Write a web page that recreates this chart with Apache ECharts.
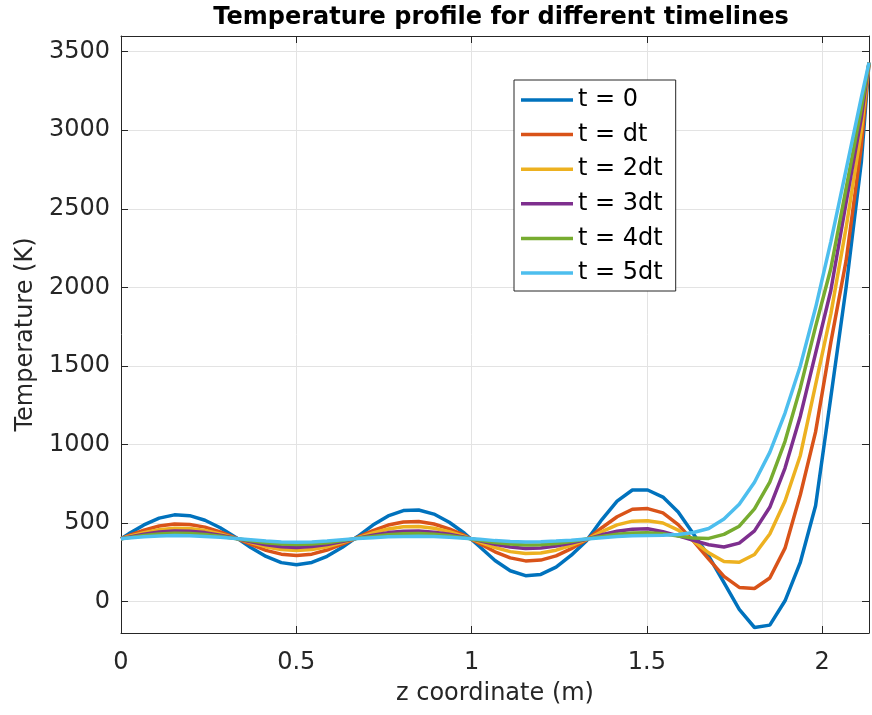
<!DOCTYPE html>
<html>
<head>
<meta charset="utf-8">
<title>Temperature profile</title>
<script src="https://cdn.jsdelivr.net/npm/echarts@6.0.0/dist/echarts.min.js"></script>
<style>
html,body{margin:0;padding:0;background:#fff;}
#chart{width:872px;height:715px;}
</style>
</head>
<body>
<div id="chart"></div>
<script>
var fontFamily = '"DejaVu Sans",Verdana,sans-serif';

// z positions (m)
var zs = [0, 0.0218, 0.0653, 0.1089, 0.1524, 0.1959, 0.2395, 0.2830, 0.3266, 0.3701, 0.4137,
    0.4572, 0.5007, 0.5443, 0.5878, 0.6314, 0.6749, 0.7185, 0.7620, 0.8055, 0.8491,
    0.8926, 0.9362, 0.9797, 1.0233, 1.0668, 1.1103, 1.1539, 1.1974, 1.2410, 1.2845,
    1.3281, 1.3716, 1.4151, 1.4587, 1.5022, 1.5458, 1.5893, 1.6329, 1.6764, 1.7199,
    1.7635, 1.8070, 1.8506, 1.8941, 1.9377, 1.9812, 2.0247, 2.0683, 2.1118, 2.1336];

var seriesNames = ['t = 0', 't = dt', 't = 2dt', 't = 3dt', 't = 4dt', 't = 5dt'];
var colors = ['#0072BD', '#D95319', '#EDB120', '#7E2F8E', '#77AC30', '#4DBEEE'];

var t0 = [400, 431, 488, 531, 552, 547, 518, 470, 410, 344, 287, 248, 235, 249, 288, 346,
    414, 487, 545, 579, 583, 557, 505, 435, 349, 261, 196, 165, 173, 219, 295, 388,
    522, 639, 710, 710, 665, 570, 430, 290, 120, -50, -165, -150, 5, 250, 610, 1300, 2000, 2800, 3430];
var t1 = [400, 419, 455, 481, 494, 491, 474, 443, 406, 364, 326, 302, 293, 302, 328, 365,
    409, 452, 487, 507, 510, 494, 463, 421, 369, 317, 278, 259, 264, 291, 337, 393,
    470, 540, 588, 592, 565, 490, 385, 270, 160, 90, 83, 150, 340, 680, 1080, 1650, 2170, 2900, 3430];
var t2 = [400, 414, 439, 458, 467, 465, 453, 431, 404, 375, 348, 331, 325, 331, 349, 375,
    406, 437, 462, 476, 478, 467, 445, 415, 379, 344, 318, 306, 309, 327, 358, 395,
    445, 488, 512, 515, 500, 455, 385, 310, 255, 250, 300, 430, 640, 930, 1380, 1830, 2380, 3000, 3430];
var t3 = [400, 410, 429, 443, 450, 448, 439, 423, 403, 381, 362, 349, 345, 350, 363, 382,
    404, 423, 439, 448, 449, 442, 428, 410, 387, 364, 347, 338, 341, 353, 372, 397,
    425, 448, 461, 464, 445, 418, 390, 362, 347, 372, 450, 600, 850, 1180, 1580, 1980, 2540, 3080, 3430];
var t4 = [400, 407, 420, 430, 435, 434, 427, 416, 402, 387, 375, 366, 363, 366, 375, 388,
    403, 415, 426, 432, 433, 428, 419, 406, 391, 376, 366, 360, 362, 369, 382, 398,
    414, 428, 436, 438, 432, 418, 404, 402, 428, 480, 590, 760, 1020, 1360, 1750, 2120, 2630, 3140, 3430];
var t5 = [400, 404, 412, 417, 420, 419, 415, 409, 401, 393, 385, 380, 378, 380, 385, 393,
    401, 407, 413, 415, 416, 414, 409, 403, 396, 388, 383, 380, 381, 385, 391, 399,
    407, 414, 419, 421, 422, 427, 440, 465, 525, 620, 760, 950, 1200, 1500, 1870, 2290, 2750, 3210, 3430];

var temps = [t0, t1, t2, t3, t4, t5];

var axisColor = '#262626';
var gridColor = '#e3e3e3';

function pairs(ys) {
    var out = [];
    for (var i = 0; i < zs.length; i++) {
        out.push([zs[i], ys[i]]);
    }
    return out;
}

var series = [];
for (var s = 0; s < temps.length; s++) {
    series.push({
        name: seriesNames[s],
        type: 'line',
        data: pairs(temps[s]),
        showSymbol: false,
        symbol: 'none',
        lineStyle: {width: 3.5, color: colors[s]},
        itemStyle: {color: colors[s]},
        animation: false
    });
}

var tickText = {color: axisColor, fontFamily: fontFamily, fontSize: 24};

var option = {
    backgroundColor: '#fff',
    animation: false,
    title: {
        text: 'Temperature profile for different timelines',
        left: 496,
        top: 1,
        textAlign: 'center',
        textStyle: {color: '#000', fontFamily: fontFamily, fontSize: 24, fontWeight: 'bold'}
    },
    legend: {
        orient: 'vertical',
        left: 514,
        top: 80,
        padding: [8, 13, 6, 7],
        itemGap: 10.6,
        itemWidth: 52,
        itemHeight: 3.5,
        icon: 'rect',
        backgroundColor: '#fff',
        borderColor: axisColor,
        borderWidth: 1,
        borderRadius: 0,
        textStyle: {color: '#000', fontFamily: fontFamily, fontSize: 24, lineHeight: 24},
        data: seriesNames
    },
    grid: {left: 121, top: 36, right: 1, bottom: 82, containLabel: false},
    xAxis: [
        {
            type: 'value',
            min: 0,
            max: 2.1336,
            interval: 0.5,
            name: 'z coordinate (m)',
            nameLocation: 'middle',
            nameGap: 49,
            nameTextStyle: tickText,
            axisLine: {show: true, onZero: false, lineStyle: {color: axisColor, width: 1}},
            axisTick: {show: true, inside: true, length: 7, lineStyle: {color: axisColor}},
            axisLabel: {
                margin: 18,
                color: axisColor, fontFamily: fontFamily, fontSize: 24,
                formatter: function (v) { return v > 2.1 ? '' : String(v); }
            },
            splitLine: {show: true, lineStyle: {color: gridColor, width: 1}}
        },
        {
            type: 'value',
            position: 'top',
            min: 0,
            max: 2.1336,
            interval: 0.5,
            axisLine: {show: true, onZero: false, lineStyle: {color: axisColor, width: 1}},
            axisTick: {show: true, inside: true, length: 7, lineStyle: {color: axisColor}},
            axisLabel: {show: false},
            splitLine: {show: false}
        }
    ],
    yAxis: [
        {
            type: 'value',
            min: -200,
            max: 3600,
            splitNumber: 8,
            name: 'Temperature (K)',
            nameLocation: 'middle',
            nameGap: 83,
            nameTextStyle: tickText,
            axisLine: {show: true, onZero: false, lineStyle: {color: axisColor, width: 1}},
            axisTick: {show: true, inside: true, length: 7, lineStyle: {color: axisColor}},
            axisLabel: {
                margin: 11,
                color: axisColor, fontFamily: fontFamily, fontSize: 24,
                formatter: function (v) { return (v % 500 === 0) ? String(v) : ''; }
            },
            splitLine: {show: true, lineStyle: {color: gridColor, width: 1}}
        },
        {
            type: 'value',
            position: 'right',
            min: -200,
            max: 3600,
            splitNumber: 8,
            axisLine: {show: true, onZero: false, lineStyle: {color: axisColor, width: 1}},
            axisTick: {show: true, inside: true, length: 7, lineStyle: {color: axisColor}},
            axisLabel: {show: false},
            splitLine: {show: false}
        }
    ],
    series: series
};

var chart = echarts.init(document.getElementById('chart'));
chart.setOption(option);
</script>
</body>
</html>
